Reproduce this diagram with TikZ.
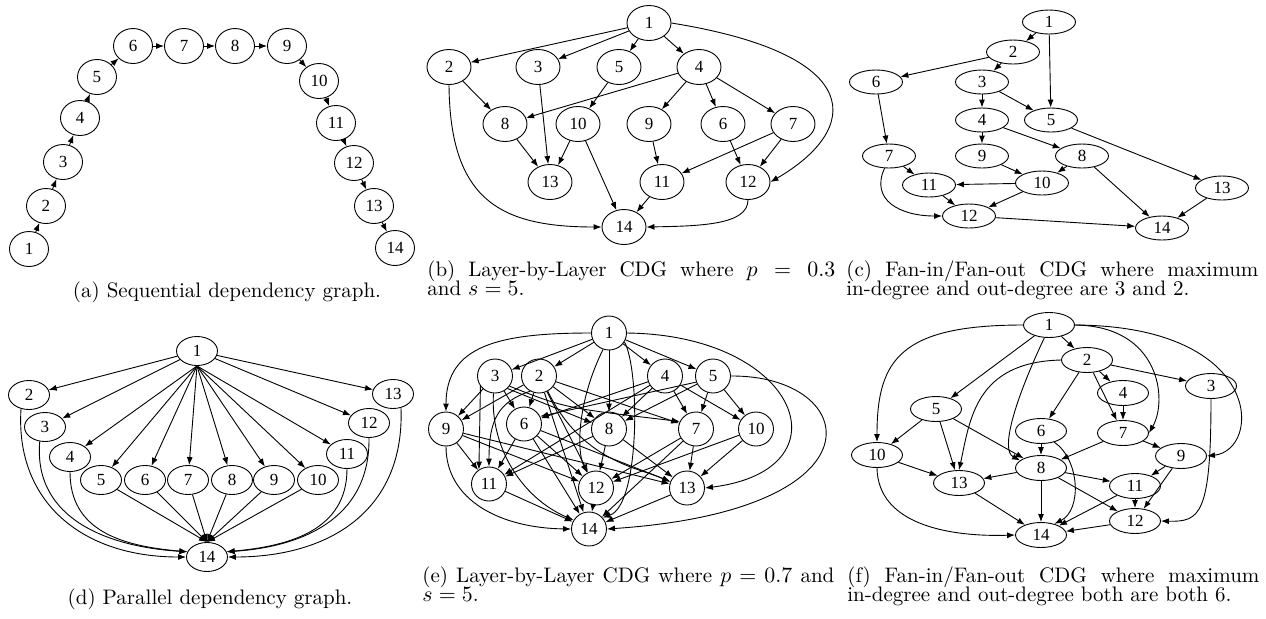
\documentclass[tikz,border=0pt]{standalone}
\usepackage{fontspec}
\newfontfamily\numfont{Liberation Serif}
\usetikzlibrary{shapes.geometric,arrows.meta}

\begin{document}
\begin{tikzpicture}[x=0.5pt,y=-0.5pt,>={Latex[length=4pt,width=3pt]},
    vtx/.style={draw,ellipse,inner sep=0pt,line width=0.45pt,font=\numfont\fontsize{8.5}{10}\selectfont},
    seqv/.style={vtx,minimum width=19.5pt,minimum height=17.5pt},
    layv/.style={vtx,minimum width=22pt,minimum height=17.5pt},
    fanv/.style={vtx,minimum width=26.5pt,minimum height=12pt},
    parv/.style={vtx,minimum width=20.5pt,minimum height=14.5pt},
    denv/.style={vtx,minimum width=17.5pt,minimum height=17pt},
    edge/.style={->,line width=0.45pt},
    capt/.style={inner sep=0pt,font=\fontsize{10.5}{12}\selectfont}]
  \useasboundingbox (0,0) rectangle (1266,618);
  % (a)
  \foreach \n/\x/\y in {1/29/249,2/46/206,3/63/162,4/80/118,5/97/77,6/133/46,7/184/46,
      8/235/46,9/287/46,10/319/81,11/336/123,12/354/163,13/374/206,14/395/248}
    \node[seqv] (a\n) at (\x,\y) {\n};
  \foreach \n [evaluate=\n as \m using int(\n+1)] in {1,...,13}
    \draw[edge] (a\n) -- (a\m);
  \node[capt,anchor=base] (capa) at (227,297) {(a) Sequential dependency graph.};
  % (b)
  \foreach \n/\x/\y in {1/649/23,2/449/67,3/538/67,5/619/67,4/699/67,8/505/124,10/578/124,
      9/649/124,6/723/124,7/793/124,13/550/182,11/662/182,12/748/182,14/624/227}
    \node[layv] (b\n) at (\x,\y) {\n};
  \foreach \s/\t in {1/2,1/3,1/5,1/4,2/8,3/13,5/10,4/8,4/9,4/6,4/7,8/13,10/13,10/14,
      9/11,7/11,6/12,7/12,11/14}
    \draw[edge] (b\s) -- (b\t);
  \draw[edge] (b1.east) .. controls (870,55) and (860,130) .. (b12.east);
  \draw[edge] (b2.south) .. controls (450,200) and (500,227) .. (b14.west);
  \draw[edge] (b12.south) .. controls (748,225) and (700,226) .. (b14.east);
  \node[capt,anchor=base west] (capb) at (427,276) {\makebox[204pt][s]{(b) Layer-by-Layer CDG where $p = 0.3$}};
  \node[capt,anchor=base west] (capbb) at (427,295) {and $s = 5$.};
  % (c)
  \foreach \n/\x/\y in {1/1049/22,2/1013/52,6/876/82,3/982/82,4/982/120,5/1051/120,7/889/156,
      9/982/156,8/1082/156,11/929/185,10/1042/183,13/1222/188,12/969/216,14/1162/228}
    \node[fanv] (c\n) at (\x,\y) {\n};
  \foreach \s/\t in {1/2,1/5,2/6,2/3,3/4,3/5,6/7,4/9,4/8,5/13,7/11,9/10,8/10,8/14,
      10/11,10/12,11/12,12/14,13/14}
    \draw[edge] (c\s) -- (c\t);
  \draw[edge] (c7.250) .. controls (870,200) and (900,216) .. (c12.west);
  \node[capt,anchor=base west] (capc) at (846,276) {\makebox[206pt][s]{(c) Fan-in/Fan-out CDG where maximum}};
  \node[capt,anchor=base west] (capcc) at (846,295) {in-degree and out-degree are 3 and 2.};
  % (d)
  \foreach \n/\x/\y in {1/197/351,2/29/395,3/45/427,4/70/457,5/101/480,6/145/480,7/188/480,
      8/232/480,9/274/480,10/318/480,11/347/454,12/369/423,13/393/394,14/207/557}
    \node[parv] (d\n) at (\x,\y) {\n};
  \foreach \n in {2,3,12,13}
    \draw[edge] (d1) -- (d\n);
  \foreach \n in {4,...,11}
    \draw[edge] (d1.south) -- (d\n);
  \foreach \n in {5,...,10}
    \draw[edge] (d\n) -- (d14.north);
  \draw[edge] (d2.240) .. controls (15,500) and (80,557) .. (d14.west);
  \draw[edge] (d3.250) .. controls (33,520) and (110,547) .. (d14.165);
  \draw[edge] (d4.south) .. controls (70,530) and (120,546) .. (d14.165);
  \draw[edge] (d11.south) .. controls (347,530) and (290,546) .. (d14.15);
  \draw[edge] (d12.south) .. controls (370,520) and (300,547) .. (d14.15);
  \draw[edge] (d13.300) .. controls (405,510) and (330,557) .. (d14.east);
  \node[capt,anchor=base] (capd) at (210,604) {(d) Parallel dependency graph.};
  % (e)
  \foreach \n/\x/\y in {1/609/333,3/495/376,2/539/376,4/665/376,5/713/376,9/446/429,6/524/424,
      8/609/429,7/696/429,10/756/429,11/489/484,12/596/488,13/687/488,14/589/529}
    \node[denv] (e\n) at (\x,\y) {\n};
  \foreach \s/\t in {1/3,1/2,1/4,1/5,1/8,3/9,3/6,2/9,2/6,2/8,2/7,2/12,2/14,
      4/6,4/11,4/8,4/7,4/10,5/8,5/7,5/10,9/11,9/12,9/13,6/11,6/12,6/13,6/14,
      8/11,8/12,8/13,7/12,7/13,7/14,10/12,10/13,11/14,12/14,13/14}
    \draw[edge] (e\s) -- (e\t);
  \draw[edge] (e3.215) -- (e11.125);
  \draw[edge] (e3.-45) -- (e8.160);
  \draw[edge] (e3.-35) .. controls (565,408) .. (e7.155);
  \draw[edge] (e5.200) -- (e6.25);
  \draw[edge] (e2.240) .. controls (498,402) and (489,420) .. (e11.north);
  \draw[edge] (e3.265) .. controls (490,445) and (520,497) .. (e14.150);
  \draw[edge] (e2.-60) .. controls (582,462) and (640,468) .. (e13.160);
  \draw[edge] (e1.west) .. controls (500,333) and (446,345) .. (e9.north);
  \draw[edge] (e1.east) .. controls (800,335) and (850,470) .. (e13.east);
  \draw[edge] (e1.250) .. controls (578,400) and (576,450) .. (e12.120);
  \draw[edge] (e1.-30) .. controls (640,370) and (640,505) .. (e14.40);
  \draw[edge] (e5.east) .. controls (860,375) and (890,510) .. (e14.east);
  \draw[edge] (e9.south) .. controls (446,500) and (500,528) .. (e14.west);
  \node[capt,anchor=base west] (cape) at (422,582) {\makebox[206pt][s]{(e) Layer-by-Layer CDG where $p = 0.7$ and}};
  \node[capt,anchor=base west] (capee) at (422,601) {$s = 5$.};
  % (f)
  \foreach \n/\x/\y in {1/1049/325,2/1087/360,3/1211/386,4/1123/393,5/936/409,6/1041/431,
      7/1123/433,10/877/455,9/1181/456,8/1041/468,13/959/483,11/1135/486,12/1135/521,14/1041/535}
    \node[fanv,minimum width=25.5pt,minimum height=12.5pt] (f\n) at (\x,\y) {\n};
  \foreach \s/\t in {1/2,1/5,2/6,2/7,2/4,2/3,4/7,5/10,5/13,5/8,6/8,7/8,7/9,10/13,8/13,
      8/11,8/14,8/12,9/11,9/12,11/12,11/14,12/14,13/14}
    \draw[edge] (f\s) -- (f\t);
  \draw[edge] (f1.west) .. controls (900,325) and (877,360) .. (f10.north);
  \draw[edge] (f1.250) .. controls (1015,400) and (1000,450) .. (f8.160);
  \draw[edge] (f1.east) .. controls (1160,326) and (1168,400) .. (f7.east);
  \draw[edge] (f1.east) .. controls (1265,326) and (1262,450) .. (f9.east);
  \draw[edge] (f2.west) .. controls (975,362) and (970,420) .. (f13.north);
  \draw[edge] (f3.south) .. controls (1211,515) and (1200,522) .. (f12.east);
  \draw[edge] (f6.-40) .. controls (1080,460) and (1082,510) .. (f14.40);
  \draw[edge] (f10.south) .. controls (878,525) and (950,537) .. (f14.west);
  \node[capt,anchor=base west] (capf) at (847,582) {\makebox[206pt][s]{(f) Fan-in/Fan-out CDG where maximum}};
  \node[capt,anchor=base west] (capff) at (847,601) {in-degree and out-degree both are both 6.};
\end{tikzpicture}
\end{document}
